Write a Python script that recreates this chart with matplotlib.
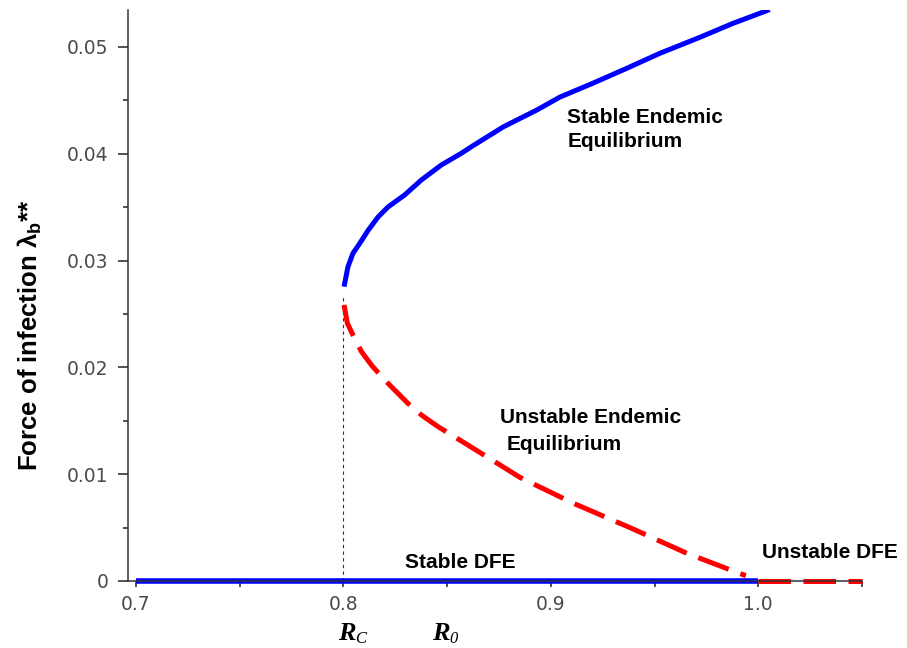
import matplotlib
matplotlib.use("Agg")
import matplotlib.pyplot as plt
from matplotlib.transforms import blended_transform_factory

# fonts: Arial-like bold for labels, serif bold italic for R_C / R_0
plt.rcParams["font.family"] = ["Liberation Sans", "DejaVu Sans"]
plt.rcParams["mathtext.fontset"] = "custom"
plt.rcParams["mathtext.rm"] = "Liberation Sans"
plt.rcParams["mathtext.bf"] = "Liberation Sans:bold"

# --- data ---
r0_stable = [0.8003, 0.8022, 0.8046, 0.8079, 0.8119, 0.8167, 0.8215, 0.8295,
             0.8376, 0.8472, 0.8568, 0.8617, 0.8769, 0.8933, 0.9043, 0.9202,
             0.9366, 0.9525, 0.9718, 0.9877, 1.0055]
lam_stable = [0.02756, 0.02943, 0.03068, 0.03162, 0.03283, 0.03408, 0.03502,
              0.03614, 0.03755, 0.03895, 0.04004, 0.04066, 0.0425, 0.0441,
              0.0453, 0.0466, 0.0480, 0.0494, 0.0509, 0.0522, 0.0535]

r0_unstable = [0.8003, 0.8019, 0.8046, 0.8087, 0.8135, 0.8191, 0.8247, 0.8311,
               0.8376, 0.8456, 0.8600, 0.8851, 0.9106, 0.9381, 0.9655, 0.9911,
               0.9940]
lam_unstable = [0.02584, 0.02413, 0.02303, 0.02147, 0.02022, 0.01898, 0.01788,
                0.01663, 0.01554, 0.01445, 0.01273, 0.0097, 0.0073, 0.0050,
                0.0026, 0.0007, 0.0005]

r0_dfe_stable = [0.7, 1.0]
r0_dfe_unstable = [1.0, 1.05]
lam_dfe = [0.0, 0.0]

rc = 0.8
rc_top = 0.0268

xticks = [0.7, 0.8, 0.9, 1.0]
xtick_labels = ["0.7", "0.8", "0.9", "1.0"]
xminor = [0.75, 0.85, 0.95, 1.05]
yticks = [0, 0.01, 0.02, 0.03, 0.04, 0.05]
ytick_labels = ["0", "0.01", "0.02", "0.03", "0.04", "0.05"]
yminor = [0.005, 0.015, 0.025, 0.035, 0.045]

blue = "#0000ff"
red = "#ff0000"
dash = (6.5, 2.5)

fig = plt.figure(figsize=(9.07, 6.48), dpi=100)
ax = fig.add_axes([128 / 907, 1 - 581 / 648, (862 - 128) / 907, (581 - 10) / 648])

ax.plot(r0_stable, lam_stable, color=blue, lw=3.6, solid_capstyle="butt",
        solid_joinstyle="round", zorder=3)
ax.plot(r0_unstable, lam_unstable, color=red, lw=3.6, dashes=dash,
        dash_capstyle="butt", dash_joinstyle="round", zorder=3)
ax.plot(r0_dfe_stable, lam_dfe, color=blue, lw=4.0, clip_on=False,
        solid_capstyle="butt", zorder=3)
ax.plot(r0_dfe_unstable, lam_dfe, color=red, lw=3.6, dashes=dash, clip_on=False,
        dash_capstyle="butt", zorder=3)
ax.plot([rc, rc], [0, rc_top], color="#333333", lw=0.8, ls=(0, (3, 3)), zorder=2)

ax.set_xlim(0.69615, 1.0496)
ax.set_ylim(0, 0.05346)

for s in ["top", "right"]:
    ax.spines[s].set_visible(False)
for s in ["left", "bottom"]:
    ax.spines[s].set_color("#333333")
    ax.spines[s].set_linewidth(1.1)
    ax.spines[s].set_zorder(4)

ax.set_xticks(xticks)
ax.set_xticklabels(xtick_labels)
ax.set_xticks(xminor, minor=True)
ax.set_yticks(yticks)
ax.set_yticklabels(ytick_labels)
ax.set_yticks(yminor, minor=True)
ax.tick_params(axis="x", which="both", length=4, width=1.2, color="#333333",
               labelsize=13.5, labelcolor="#4a4a4a", pad=6)
ax.tick_params(axis="y", which="major", length=7, width=1.2, color="#333333",
               labelsize=13.5, labelcolor="#4a4a4a", pad=7)
ax.tick_params(axis="y", which="minor", length=3.6, width=1.2, color="#333333")
for lab in ax.get_xticklabels() + ax.get_yticklabels():
    lab.set_family("DejaVu Sans")

fig.text(30 / 907, 1 - 335 / 648, "Force of infection λ$_\\mathbf{b}$**",
         rotation=90, ha="center", va="center", fontsize=18.5, fontweight="bold")

tfont = dict(fontsize=15, fontweight="bold", color="black", va="baseline", ha="left")
ax.text(0.908, 0.04288, "Stable Endemic", **tfont)
ax.text(0.908, 0.04064, "Equilibrium", **tfont)
ax.text(0.8753, 0.01479, "Unstable Endemic", **tfont)
ax.text(0.8787, 0.01227, "Equilibrium", **tfont)
ax.text(0.8295, 0.0012, "Stable DFE", **tfont)
ax.text(1.0019, 0.00215, "Unstable DFE", **tfont)

# R_C and R_0 below the axis: bold italic serif R with italic subscript
trans = blended_transform_factory(ax.transData, ax.transAxes)
rfont = dict(family="Liberation Serif", style="italic", weight="bold",
             fontsize=19, ha="left", va="baseline", transform=trans)
sfont = dict(family="Liberation Serif", style="italic", fontsize=12,
             ha="left", va="baseline", transform=trans)
ax.text(0.7973, -0.104, "R", **rfont)
ax.text(0.8058, -0.108, "C", **sfont)
ax.text(0.8425, -0.104, "R", **rfont)
ax.text(0.8512, -0.108, "0", **sfont)

fig.savefig("out.png", dpi=100)
